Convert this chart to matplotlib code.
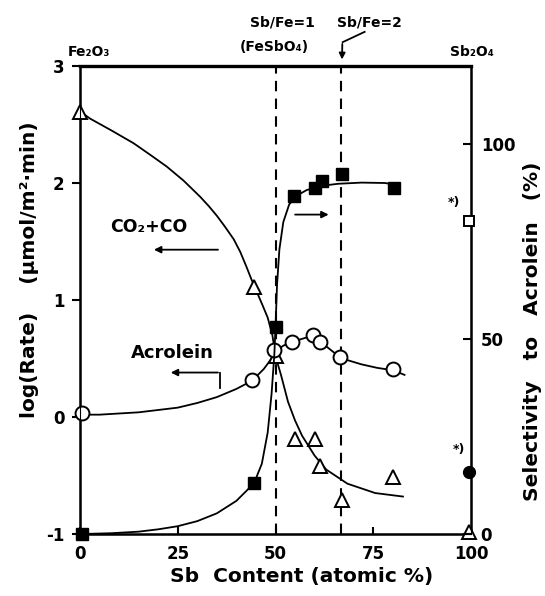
import matplotlib
matplotlib.use('Agg')
import matplotlib.pyplot as plt

# --- DATA ---
# CO2+CO rate, log(Rate), open triangles
co_x = [0, 44.5, 50, 55, 60, 61.5, 67, 80, 99.5]
co_y = [2.61, 1.11, 0.52, -0.19, -0.19, -0.42, -0.71, -0.51, -0.98]
# acrolein rate, log(Rate), open circles
acr_x = [0.5, 44, 49.5, 54.3, 59.6, 61.5, 66.5, 80]
acr_y = [0.03, 0.32, 0.57, 0.64, 0.70, 0.64, 0.51, 0.41]
# selectivity to acrolein (%), filled squares
sel_x = [0.5, 44.5, 50, 54.7, 60.1, 62.0, 67.1, 80.3]
sel_y = [0.0, 13, 53, 86.6, 88.7, 90.6, 92.4, 88.7]
# Sb2O4 points marked *)
sb_sel = 80.3     # open square, right axis
sb_acr = -0.47    # filled circle, left axis

# hand-drawn guide curves, points read along them
co_curve_x = [0.5, 2.6, 8, 13.7, 18, 22.2, 26.5, 30.8, 33, 35, 37, 39.3, 41, 42.5, 43.8,
              45.2, 46.5, 48, 49.2, 50, 51.4, 53.2, 55, 56.8, 60, 63, 68.4, 75.5, 82.6]
co_curve_y = [2.60, 2.55, 2.45, 2.34, 2.24, 2.14, 2.02, 1.88, 1.80, 1.72, 1.63, 1.52, 1.41, 1.29, 1.18,
              1.07, 0.97, 0.85, 0.70, 0.52, 0.36, 0.13, -0.03, -0.16, -0.33, -0.45, -0.57, -0.65, -0.68]
acr_curve_x = [0.5, 5, 10, 15, 20, 25, 30, 35, 40, 44, 47, 49, 50,
               52, 55, 58, 60, 62, 65, 68, 72, 76, 80, 83]
acr_curve_y = [0.02, 0.02, 0.03, 0.04, 0.06, 0.08, 0.12, 0.17, 0.24, 0.31, 0.41, 0.50, 0.56,
               0.61, 0.65, 0.68, 0.68, 0.63, 0.55, 0.49, 0.45, 0.42, 0.40, 0.36]
sel_curve_x = [0.5, 8, 15, 20, 25, 30, 35, 40, 44.5, 46.5, 48, 49, 49.7, 50, 50.4,
               51, 52, 53.5, 55.5, 58, 62, 66, 72, 78, 81.5]
sel_curve_y = [0.0, 0.2, 0.6, 1.2, 2.0, 3.3, 5.3, 8.5, 13, 18, 26, 36, 46, 53, 64,
               73, 80, 84.5, 86.8, 88.2, 89.3, 89.8, 90.1, 90.0, 89.4]

x_ticks = [0, 25, 50, 75, 100]
left_ticks = [-1, 0, 1, 2, 3]
right_ticks = [0, 50, 100]
ratio_lines = [50, 66.7]

FONT = dict(family='DejaVu Sans', fontweight='bold')

fig = plt.figure(figsize=(5.45, 5.96), dpi=100)
ax = fig.add_axes([80 / 545, 1 - 534 / 596, 391 / 545, 468 / 596])
ax2 = ax.twinx()

ax.set_xlim(0, 100)
ax.set_ylim(-1, 3)
ax2.set_ylim(0, 120)

# curves
ax.plot(co_curve_x, co_curve_y, color='black', lw=1.3, zorder=2)
ax.plot(acr_curve_x, acr_curve_y, color='black', lw=1.3, zorder=2)
ax2.plot(sel_curve_x, sel_curve_y, color='black', lw=1.3, zorder=2)

# markers
ax.plot(co_x, co_y, linestyle='none', marker='^', ms=10, mfc='white', mec='black', mew=1.4,
        zorder=3, clip_on=False)
ax.plot(acr_x, acr_y, linestyle='none', marker='o', ms=10, mfc='white', mec='black', mew=1.4,
        zorder=4, clip_on=False)
ax.plot([99.5], [sb_acr], linestyle='none', marker='o', ms=8.5, color='black', zorder=4, clip_on=False)
ax2.plot(sel_x, sel_y, linestyle='none', marker='s', ms=8.5, color='black', zorder=5, clip_on=False)
ax2.plot([99.5], [sb_sel], linestyle='none', marker='s', ms=7.5, mfc='white', mec='black', mew=1.4,
         zorder=5, clip_on=False)

for xv in ratio_lines:
    ax.axvline(xv, color='black', lw=1.5, ls=(0, (5, 3.5)), zorder=1)

# axes styling
for sp in ax.spines.values():
    sp.set_linewidth(1.8)
ax.spines['top'].set_linewidth(2.4)
ax.set_xticks(x_ticks)
ax.set_yticks(left_ticks)
ax.set_xticklabels([str(v) for v in x_ticks], fontsize=12, **FONT)
ax.set_yticklabels([str(v) for v in left_ticks], fontsize=12, **FONT)
ax.tick_params(axis='x', direction='in', length=5, width=1.5, pad=8)
ax.tick_params(axis='y', direction='out', length=6, width=1.5, pad=5)
ax2.set_yticks(right_ticks)
ax2.set_yticklabels([str(v) for v in right_ticks], fontsize=12, **FONT)
ax2.tick_params(axis='y', direction='in', length=6, width=1.5, pad=7)

ax.set_xlabel('Sb  Content (atomic %)', fontsize=14.5, **FONT)
ax.xaxis.set_label_coords(0.568, -0.07)
ax.set_ylabel('log(Rate)    (\u03bcmol/m\u00b2\u00b7min)', fontsize=14.5, **FONT)
ax.yaxis.set_label_coords(-0.105, 0.564)
ax2.set_ylabel('Selectivity   to   Acrolein   (%)', fontsize=14.5, **FONT)
ax2.yaxis.set_label_coords(1.133, 0.434)

# in-plot labels and arrows
ax.text(17.6, 1.62, 'CO\u2082+CO', fontsize=12.5, ha='center', va='center', **FONT)
ax.annotate('', xy=(18.2, 1.43), xytext=(36, 1.43),
            arrowprops=dict(arrowstyle='-|>', color='black', lw=1.3, mutation_scale=10))
ax.text(23.6, 0.55, 'Acrolein', fontsize=13, ha='center', va='center', **FONT)
ax.plot([35.8, 35.8], [0.25, 0.38], color='black', lw=1.3)
ax.annotate('', xy=(22.5, 0.38), xytext=(36, 0.38),
            arrowprops=dict(arrowstyle='-|>', color='black', lw=1.3, mutation_scale=10))
ax2.annotate('', xy=(64.3, 81.9), xytext=(54.3, 81.9),
             arrowprops=dict(arrowstyle='-|>', color='black', lw=1.3, mutation_scale=10))
ax2.text(95.7, 85, '*)', fontsize=9, ha='center', va='center', **FONT)
ax.text(97, -0.28, '*)', fontsize=9, ha='center', va='center', **FONT)

# top annotations
trans = ax.get_xaxis_transform()
ax.text(2.4, 1.03, 'Fe\u2082O\u2083', transform=trans, fontsize=10, ha='center', va='center', **FONT)
ax.text(51.9, 1.094, 'Sb/Fe=1', transform=trans, fontsize=10, ha='center', va='center', **FONT)
ax.text(49.7, 1.041, '(FeSbO\u2084)', transform=trans, fontsize=10, ha='center', va='center', **FONT)
ax.text(74, 1.094, 'Sb/Fe=2', transform=trans, fontsize=10, ha='center', va='center', **FONT)
ax.plot([72.8, 67.2], [1.073, 1.051], transform=trans, color='black', lw=1.3, clip_on=False)
ax.annotate('', xy=(67.0, 1.008), xytext=(67.1, 1.053), xycoords=trans, textcoords=trans,
            arrowprops=dict(arrowstyle='-|>', color='black', lw=1.3, mutation_scale=9))
ax.text(100.3, 1.03, 'Sb\u2082O\u2084', transform=trans, fontsize=10, ha='center', va='center', **FONT)

fig.savefig('out.png', dpi=100, facecolor='white')
